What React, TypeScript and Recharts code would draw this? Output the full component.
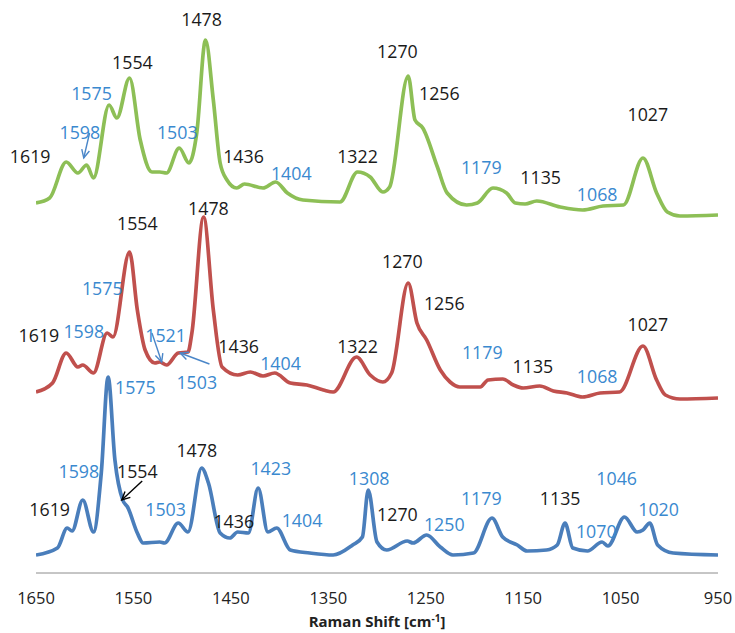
import React from 'react';
import { LineChart, Line, XAxis, YAxis, ReferenceDot, ReferenceLine } from 'recharts';

// ---------- data (Raman shift in cm-1, intensity in arbitrary stacked units) ----------
const greenShift = [1650, 1636, 1619, 1607, 1598, 1591, 1575, 1567, 1554, 1543, 1531, 1523, 1516, 1503, 1493, 1485, 1476, 1468, 1461, 1454, 1444, 1436, 1417, 1404, 1392, 1376, 1338, 1320, 1307, 1294, 1287, 1268, 1261, 1253, 1238, 1228, 1208, 1197, 1181, 1167, 1158, 1148, 1136, 1112, 1089, 1068, 1047, 1027, 1013, 1002, 989, 950];
const greenIntensity = [370, 375, 411, 400, 408, 395, 468, 455, 495, 433, 401, 401, 400, 425, 410, 440, 533, 473, 410, 393, 385, 389, 385, 391, 380, 373, 371, 401, 396, 381, 386, 497, 453, 445, 406, 380, 368, 370, 385, 380, 370, 369, 372, 366, 363, 367, 368, 415, 380, 361, 357, 358];

const redShift = [1650, 1633, 1619, 1607, 1602, 1591, 1577, 1571, 1554, 1546, 1538, 1528, 1523, 1516, 1504, 1494, 1490, 1478, 1468, 1459, 1443, 1430, 1417, 1405, 1389, 1372, 1355, 1345, 1321, 1307, 1294, 1285, 1268, 1259, 1249, 1235, 1225, 1215, 1194, 1186, 1171, 1160, 1150, 1133, 1119, 1105, 1089, 1071, 1051, 1027, 1013, 1004, 989, 950];
const redIntensity = [181, 190, 220, 206, 208, 200, 240, 236, 321, 263, 223, 210, 211, 208, 220, 221, 240, 356, 263, 206, 198, 201, 197, 200, 190, 188, 183, 181, 216, 198, 191, 200, 290, 250, 233, 203, 191, 186, 186, 193, 194, 188, 185, 187, 182, 180, 176, 180, 181, 227, 193, 178, 174, 175];

const blueShift = [1650, 1628, 1618, 1613, 1602, 1591, 1583, 1576, 1569, 1561, 1556, 1546, 1540, 1523, 1518, 1504, 1494, 1480, 1473, 1461, 1451, 1443, 1432, 1422, 1412, 1403, 1389, 1369, 1345, 1325, 1315, 1309, 1300, 1290, 1269, 1263, 1249, 1235, 1222, 1201, 1182, 1171, 1156, 1146, 1126, 1115, 1107, 1099, 1084, 1069, 1063, 1046, 1033, 1027, 1020, 1012, 996, 950];
const blueIntensity = [18, 25, 45, 42, 73, 41, 100, 196, 113, 73, 66, 40, 30, 31, 30, 50, 41, 105, 90, 40, 35, 41, 40, 85, 41, 45, 23, 20, 18, 28, 36, 83, 31, 23, 32, 30, 38, 26, 18, 20, 55, 36, 28, 22, 23, 28, 50, 25, 22, 31, 27, 56, 41, 43, 50, 28, 20, 18];

const xTicks = [1650, 1550, 1450, 1350, 1250, 1150, 1050, 950];

// peak annotations: [label, shift, intensity, kind]  kind: 'k' black, 'b' blue
const greenLabels: [string, number, number, string][] = [
  ['1619', 1656, 417, 'k'], ['1598', 1605, 441, 'b'], ['1575', 1593, 480, 'b'], ['1554', 1551, 511, 'k'],
  ['1478', 1480, 554, 'k'], ['1503', 1505, 441, 'b'], ['1436', 1437, 417, 'k'], ['1404', 1388, 400, 'b'],
  ['1322', 1320, 417, 'k'], ['1270', 1279, 522, 'k'], ['1256', 1236, 480, 'k'], ['1179', 1193, 406, 'b'],
  ['1135', 1132, 396, 'k'], ['1068', 1074, 379, 'b'], ['1027', 1022, 459, 'k'],
];
const redLabels: [string, number, number, string][] = [
  ['1554', 1546, 350, 'k'], ['1478', 1473, 365, 'k'], ['1575', 1582, 285, 'b'], ['1619', 1647, 238, 'k'],
  ['1598', 1601, 242, 'b'], ['1521', 1517, 238, 'b'], ['1436', 1442, 227, 'k'], ['1404', 1399, 210, 'b'],
  ['1503', 1485, 191, 'b'], ['1322', 1320, 227, 'k'], ['1270', 1274, 312, 'k'], ['1256', 1231, 270, 'k'],
  ['1179', 1192, 221, 'b'], ['1135', 1140, 207, 'k'], ['1068', 1074, 197, 'b'], ['1027', 1022, 249, 'k'],
];
const blueLabels: [string, number, number, string][] = [
  ['1575', 1548, 186, 'b'], ['1598', 1606, 102, 'b'], ['1554', 1546, 102, 'k'], ['1619', 1636, 64, 'k'],
  ['1478', 1485, 123, 'k'], ['1503', 1517, 64, 'b'], ['1436', 1447, 52, 'k'], ['1423', 1409, 105, 'b'],
  ['1404', 1377, 53, 'b'], ['1308', 1308, 95, 'b'], ['1270', 1279, 59, 'k'], ['1250', 1231, 49, 'b'],
  ['1179', 1193, 75, 'b'], ['1135', 1112, 75, 'k'], ['1070', 1075, 42, 'b'], ['1046', 1054, 95, 'b'],
  ['1020', 1011, 64, 'b'],
];

// arrows: [fromShift, fromI, toShift, toI, kind]
const arrows: [number, number, number, number, string][] = [
  [1595, 440, 1601, 415, 'b'],
  [1531, 240, 1521, 211, 'b'],
  [1472, 209, 1502, 220, 'b'],
  [1541, 92, 1562, 73, 'k'],
];

// ---------- styling ----------
const W = 735;
const H = 633;
const GREEN = '#8DBF56';
const RED = '#C0504D';
const BLUE = '#4A7EBB';
const LBL_BLUE = '#3A89CF';
const LBL_BLACK = '#1a1a1a';
const FONT = '"Open Sans", "Liberation Sans", sans-serif';

const toPoints = (xs: number[], ys: number[]) => xs.map((x, i) => ({ x, y: ys[i] }));
const green = toPoints(greenShift, greenIntensity);
const red = toPoints(redShift, redIntensity);
const blue = toPoints(blueShift, blueIntensity);
const allLabels = [...greenLabels, ...redLabels, ...blueLabels];

const colorOf = (k: string) => (k === 'b' ? LBL_BLUE : LBL_BLACK);

const makeArrow = (color: string) => (p: any) => {
  const { x1, y1, x2, y2 } = p;
  const ang = Math.atan2(y2 - y1, x2 - x1);
  const L = 9;
  const a = 0.45;
  const ax = x2 - L * Math.cos(ang - a);
  const ay = y2 - L * Math.sin(ang - a);
  const bx = x2 - L * Math.cos(ang + a);
  const by = y2 - L * Math.sin(ang + a);
  return (
    <g>
      <line x1={x1} y1={y1} x2={x2} y2={y2} stroke={color} strokeWidth={1.4} />
      <polyline points={`${ax},${ay} ${x2},${y2} ${bx},${by}`} fill="none" stroke={color} strokeWidth={1.4} />
    </g>
  );
};

const makeText = (text: string, color: string) => (p: any) => (
  <text
    x={p.cx}
    y={p.cy}
    textAnchor="middle"
    dominantBaseline="central"
    fontSize={17.8}
    fontFamily={FONT}
    fill={color}
  >
    {text}
  </text>
);

const AxisTitle = (props: any) => {
  const vb = props.viewBox || { x: 36, y: 573, width: 682, height: 60 };
  const cx = vb.x + vb.width / 2;
  const y = vb.y + 54;
  return (
    <text x={cx} y={y} textAnchor="middle" fontSize={15} fontWeight="bold" fontFamily={FONT} fill="#222">
      <tspan>Raman Shift [cm</tspan>
      <tspan dy={-5} fontSize={10}>-1</tspan>
      <tspan dy={5}>]</tspan>
    </text>
  );
};

export default function App() {
  return (
    <div style={{ position: 'absolute', left: 0, top: 0, width: W, height: H, background: '#fff' }}>
      <LineChart width={W} height={H} margin={{ top: 10, right: 17, bottom: 0, left: 36 }}>
        <XAxis
          type="number"
          dataKey="x"
          domain={[950, 1650]}
          reversed
          ticks={xTicks}
          interval={0}
          allowDataOverflow
          tickLine={false}
          axisLine={{ stroke: '#8c8c8c', strokeWidth: 1 }}
          height={60}
          tickMargin={13}
          tick={{ fontSize: 16.5, fill: '#222', fontFamily: FONT }}
          label={<AxisTitle />}
        />
        <YAxis hide type="number" domain={[0, 563]} allowDataOverflow />
        <Line data={green} dataKey="y" type="monotone" stroke={GREEN} strokeWidth={3.7} dot={false} isAnimationActive={false} />
        <Line data={red} dataKey="y" type="monotone" stroke={RED} strokeWidth={3.7} dot={false} isAnimationActive={false} />
        <Line data={blue} dataKey="y" type="monotone" stroke={BLUE} strokeWidth={3.7} dot={false} isAnimationActive={false} />
        {allLabels.map(([t, x, y, k], i) => (
          <ReferenceDot key={'l' + i} x={x} y={y} r={0} ifOverflow="visible" shape={makeText(t, colorOf(k))} />
        ))}
        {arrows.map(([xa, ya, xb, yb, k], i) => (
          <ReferenceLine
            key={'a' + i}
            segment={[{ x: xa, y: ya }, { x: xb, y: yb }]}
            ifOverflow="visible"
            shape={makeArrow(k === 'b' ? '#4A86C8' : '#000')}
          />
        ))}
      </LineChart>
    </div>
  );
}
